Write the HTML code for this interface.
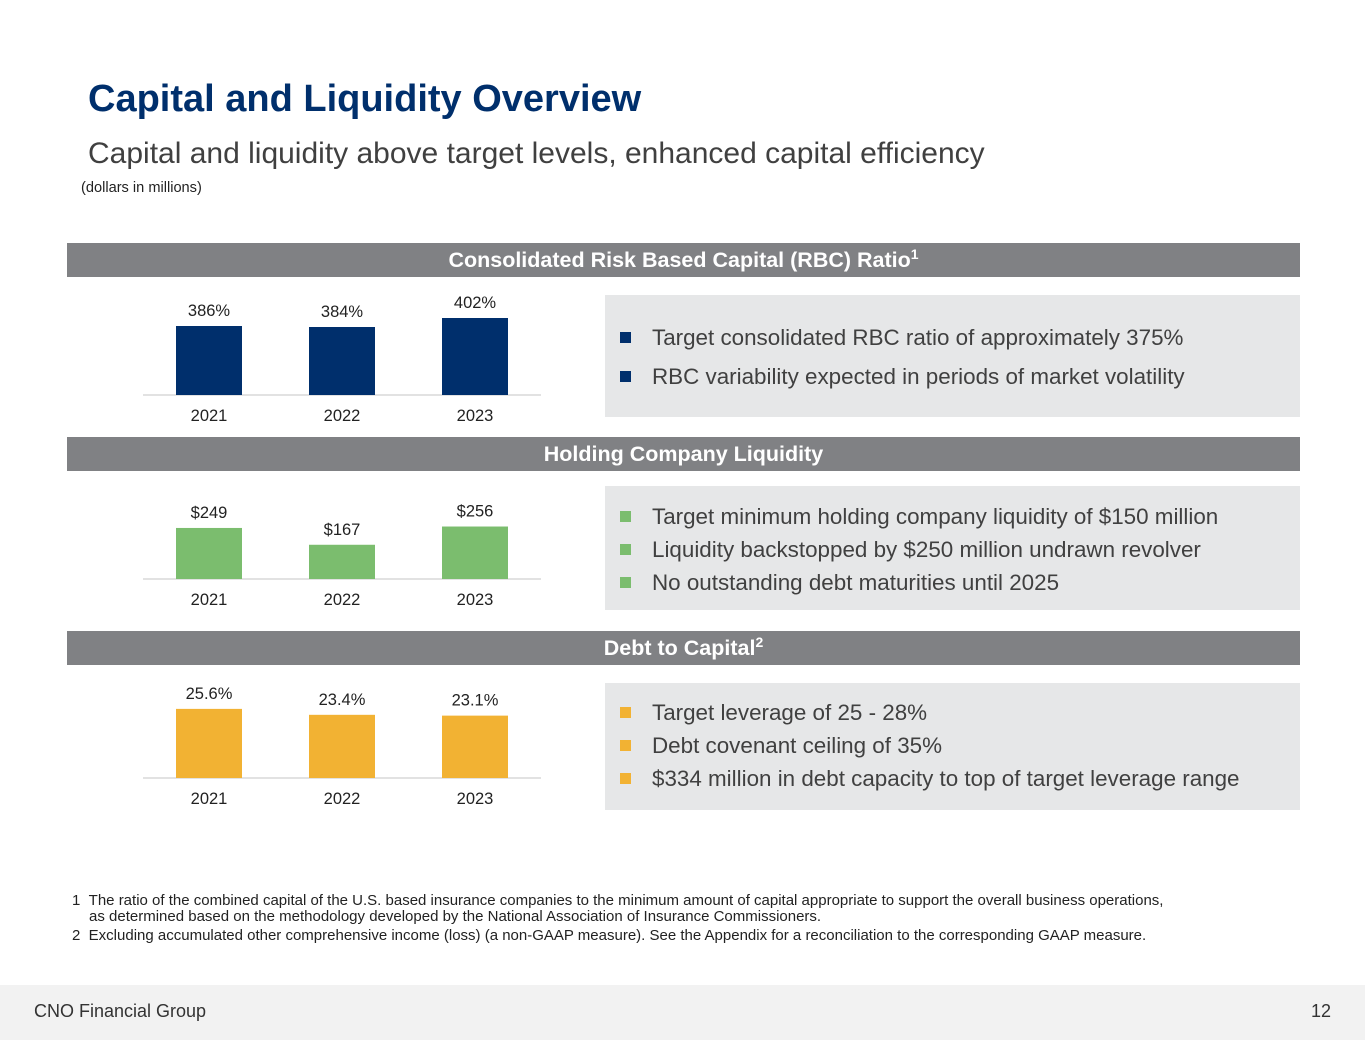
<!DOCTYPE html>
<html><head><meta charset="utf-8"><style>
body{margin:0;width:1365px;height:1055px;position:relative;background:#fff;font-family:"Liberation Sans",sans-serif;overflow:hidden}
.a{position:absolute}
.hdr{position:absolute;left:67px;width:1233px;height:34px;background:#808184;color:#fff;font-weight:bold;font-size:21.5px;text-align:center;line-height:34px}
.hdr sup{font-size:14px;vertical-align:top;line-height:22px}
.box{position:absolute;left:605px;width:695px;background:#e6e7e8}
.bl{position:absolute;left:15px;font-size:22.4px;color:#404040;white-space:nowrap}
.bl i{display:inline-block;width:11px;height:11px;margin-right:21px;vertical-align:2px}
.fn{position:absolute;left:72px;font-size:15px;color:#222;white-space:nowrap}
</style></head><body>
<div class="a" style="left:88px;top:78px;font-size:38px;font-weight:bold;color:#002f6c">Capital and Liquidity Overview</div>
<div class="a" style="left:88px;top:137px;font-size:30px;color:#404040">Capital and liquidity above target levels, enhanced capital efficiency</div>
<div class="a" style="left:81px;top:180px;font-size:14.6px;color:#222">(dollars in millions)</div>

<div class="hdr" style="top:243px">Consolidated Risk Based Capital (RBC) Ratio<sup>1</sup></div>
<div class="hdr" style="top:437px">Holding Company Liquidity</div>
<div class="hdr" style="top:631px">Debt to Capital<sup>2</sup></div>

<svg id="c1" class="a" style="left:0;top:280px" width="600" height="155"></svg>
<svg id="c2" class="a" style="left:0;top:464px" width="600" height="155"></svg>
<svg id="c3" class="a" style="left:0;top:663px" width="600" height="155"></svg>

<div class="box" style="top:295px;height:122px">
<div class="bl" style="top:30px"><i style="background:#002f6c"></i>Target consolidated RBC ratio of approximately 375%</div>
<div class="bl" style="top:69px"><i style="background:#002f6c"></i>RBC variability expected in periods of market volatility</div>
</div>
<div class="box" style="top:486px;height:124px">
<div class="bl" style="top:18px"><i style="background:#7bbd6e"></i>Target minimum holding company liquidity of $150 million</div>
<div class="bl" style="top:51px"><i style="background:#7bbd6e"></i>Liquidity backstopped by $250 million undrawn revolver</div>
<div class="bl" style="top:84px"><i style="background:#7bbd6e"></i>No outstanding debt maturities until 2025</div>
</div>
<div class="box" style="top:683px;height:127px">
<div class="bl" style="top:17px"><i style="background:#f2b233"></i>Target leverage of 25 - 28%</div>
<div class="bl" style="top:50px"><i style="background:#f2b233"></i>Debt covenant ceiling of 35%</div>
<div class="bl" style="top:83px"><i style="background:#f2b233"></i>$334 million in debt capacity to top of target leverage range</div>
</div>

<div class="fn" style="top:892px">1&nbsp;&nbsp;The ratio of the combined capital of the U.S. based insurance companies to the minimum amount of capital appropriate to support the overall business operations,</div>
<div class="fn" style="top:908px;left:89px">as determined based on the methodology developed by the National Association of Insurance Commissioners.</div>
<div class="fn" style="top:927px">2&nbsp;&nbsp;Excluding accumulated other comprehensive income (loss) (a non-GAAP measure). See the Appendix for a reconciliation to the corresponding GAAP measure.</div>

<div class="a" style="left:0;top:985px;width:1365px;height:55px;background:#f2f2f2">
<div class="a" style="left:34px;top:16px;font-size:18px;color:#333">CNO Financial Group</div>
<div class="a" style="right:34px;top:16px;font-size:18px;color:#333">12</div>
</div>
<script>
const years = ["2021","2022","2023"];
const rbcValues = [386,384,402];
const rbcLabels = ["386%","384%","402%"];
const liqValues = [249,167,256];
const liqLabels = ["$249","$167","$256"];
const debtValues = [25.6,23.4,23.1];
const debtLabels = ["25.6%","23.4%","23.1%"];
const NS="http://www.w3.org/2000/svg";
function mk(t,a){const e=document.createElementNS(NS,t);for(const k in a)e.setAttribute(k,a[k]);return e;}
function draw(id,vals,labs,color,min,pxPer,name){
  const svg=document.getElementById(id);
  const base=115;
  const x=i=>209+i*133;
  const y=v=>base-(v-min)*pxPer;
  const ln=mk('line',{x1:143,x2:541,y1:base,y2:base,stroke:'#d9d9d9','stroke-width':1.5});
  
  
  svg.appendChild(ln);
  vals.forEach((v,i)=>{
    const r=mk('rect',{x:x(i)-33,y:y(v),width:66,height:base-y(v),fill:color});
    
    
    svg.appendChild(r);
    const t=mk('text',{x:x(i),y:y(v)-10,'text-anchor':'middle','font-size':16.5,fill:'#222'});
    t.textContent=labs[i];
    
    
    svg.appendChild(t);
    const yl=mk('text',{x:x(i),y:base+26,'text-anchor':'middle','font-size':16.5,fill:'#222'});
    yl.textContent=years[i];
    
    
    svg.appendChild(yl);
  });
}
draw('c1',rbcValues,rbcLabels,'#002f6c',248,0.5,'rbc');
draw('c2',liqValues,liqLabels,'#7bbd6e',0,0.205,'liquidity');
draw('c3',debtValues,debtLabels,'#f2b233',0,2.7,'debt');
</script>
</body></html>
